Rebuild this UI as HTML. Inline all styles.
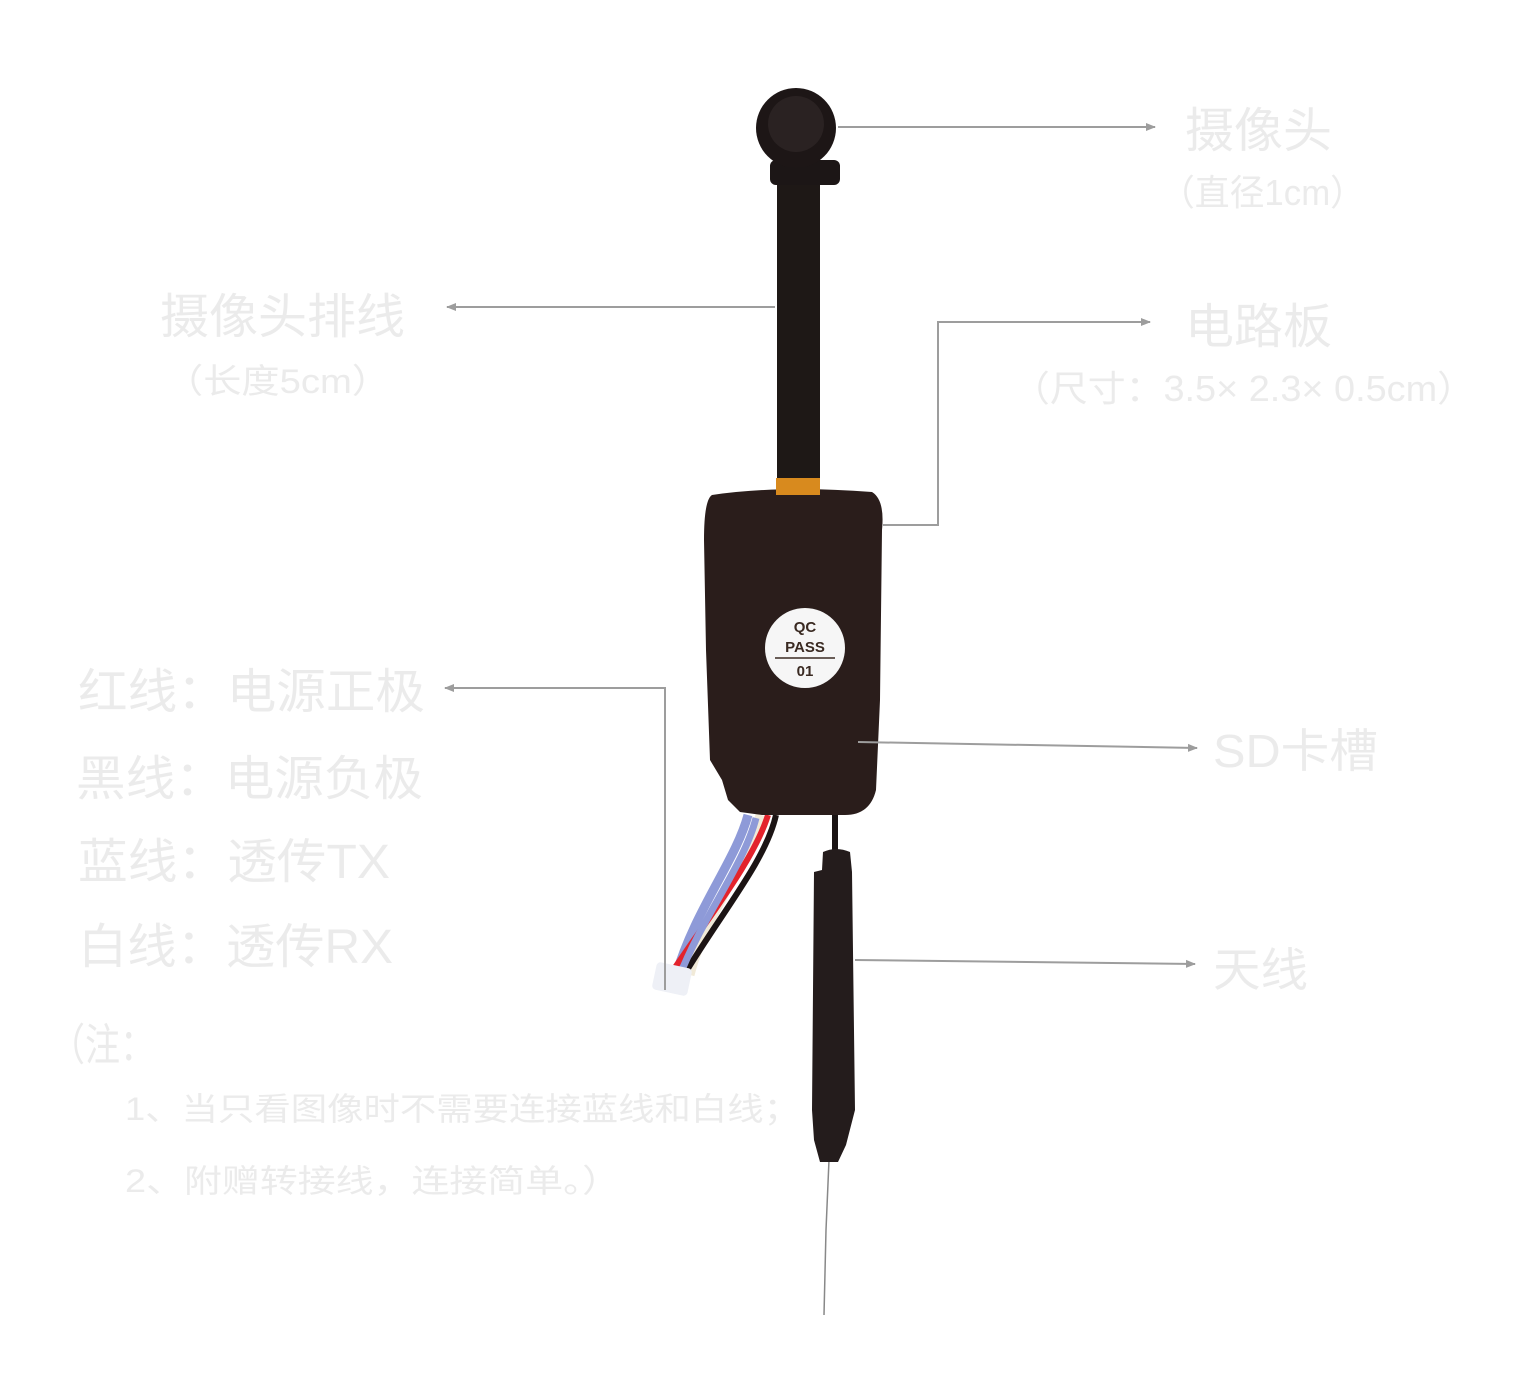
<!DOCTYPE html>
<html><head><meta charset="utf-8"><style>
html,body{margin:0;padding:0;background:#fff;}
svg{display:block;}
.t{font-family:"Liberation Sans","Noto Sans CJK SC",sans-serif;fill:#ebebeb;}
</style></head><body>
<svg width="1522" height="1377" viewBox="0 0 1522 1377" xmlns="http://www.w3.org/2000/svg">
<defs><marker id="a" markerWidth="10" markerHeight="10" refX="9" refY="5" orient="auto" markerUnits="userSpaceOnUse"><path d="M0,1 L10,5 L0,9 z" fill="#9d9d9d"/></marker></defs>
<path d="M829,1160 L826,1230 L824,1315" stroke="#888" stroke-width="1.5" fill="none"/>
<rect x="832" y="812" width="6" height="42" fill="#1a1414"/>
<path d="M823,852 Q836,846 850,852 L852,872 L855,1110 L846,1145 L838,1162 L820,1162 L814,1140 L812,1110 L814,872 L822,870 z" fill="#241c1c"/>
<!-- wires -->
<path d="M748,815 C736,860 695,910 676,975" stroke="#8e9ad8" stroke-width="9" fill="none"/>
<path d="M760,815 C750,860 705,915 690,975" stroke="#f1ead8" stroke-width="9" fill="none"/>
<path d="M768,815 C754,860 710,915 670,975" stroke="#e3232c" stroke-width="6" fill="none"/>
<path d="M776,815 C766,860 722,912 684,975" stroke="#1c1414" stroke-width="6" fill="none"/>
<path d="M756,818 C744,865 702,918 680,975" stroke="#8e9ad8" stroke-width="7" fill="none"/>
<rect x="654" y="965" width="36" height="28" rx="4" fill="#eef0f6" transform="rotate(12 672 979)"/>
<path d="M712,495 Q780,485 872,492 Q885,500 882,530 L880,700 L876,790 Q870,815 845,815 L762,815 L740,812 L728,800 L722,780 L710,760 L706,650 L704,540 Q704,500 712,495 z" fill="#2a1d1b"/>
<rect x="777" y="180" width="43" height="305" fill="#1e1816"/>
<rect x="776" y="478" width="44" height="17" fill="#d88a1e"/>
<rect x="770" y="160" width="70" height="25" rx="6" fill="#1c1616"/>
<circle cx="796" cy="128" r="40" fill="#1d1616"/>
<circle cx="796" cy="124" r="28" fill="#2a2222"/>
<circle cx="805" cy="648" r="40" fill="#f6f6f6"/>
<g font-family="Liberation Sans,sans-serif" font-weight="bold" font-size="15" fill="#3a2a22" text-anchor="middle">
<text x="805" y="632">QC</text><text x="805" y="652">PASS</text><text x="805" y="676">01</text></g>
<line x1="775" y1="658" x2="835" y2="658" stroke="#3a2a22" stroke-width="1.5"/>
<g stroke="#9d9d9d" stroke-width="2" fill="none">
<line x1="838" y1="127" x2="1155" y2="127" marker-end="url(#a)"/>
<line x1="775" y1="307" x2="447" y2="307" marker-end="url(#a)"/>
<polyline points="883,525 938,525 938,322 1150,322" marker-end="url(#a)"/>
<polyline points="665,990 665,688 445,688" marker-end="url(#a)"/>
<line x1="858" y1="742" x2="1197" y2="748" marker-end="url(#a)"/>
<line x1="855" y1="960" x2="1195" y2="964" marker-end="url(#a)"/>
</g>
<g class="t">
<text x="1185" y="147" font-size="48" textLength="147" lengthAdjust="spacingAndGlyphs">摄像头</text>
<text x="1160" y="205" font-size="36" textLength="205" lengthAdjust="spacingAndGlyphs">（直径1cm）</text>
<text x="160" y="333" font-size="48" textLength="245" lengthAdjust="spacingAndGlyphs">摄像头排线</text>
<text x="165" y="393" font-size="34" textLength="225" lengthAdjust="spacingAndGlyphs">（长度5cm）</text>
<text x="1185" y="343" font-size="48" textLength="147" lengthAdjust="spacingAndGlyphs">电路板</text>
<text x="1012" y="401" font-size="36" textLength="463" lengthAdjust="spacingAndGlyphs">（尺寸：3.5× 2.3× 0.5cm）</text>
<text x="78" y="708" font-size="48" textLength="347" lengthAdjust="spacingAndGlyphs">红线：电源正极</text>
<text x="76" y="795" font-size="48" textLength="347" lengthAdjust="spacingAndGlyphs">黑线：电源负极</text>
<text x="78" y="878" font-size="48" textLength="312" lengthAdjust="spacingAndGlyphs">蓝线：透传TX</text>
<text x="78" y="963" font-size="48" textLength="315" lengthAdjust="spacingAndGlyphs">白线：透传RX</text>
<text x="50" y="1060" font-size="44" textLength="105" lengthAdjust="spacingAndGlyphs">（注：</text>
<text x="125" y="1120" font-size="32" textLength="675" lengthAdjust="spacingAndGlyphs">1、当只看图像时不需要连接蓝线和白线；</text>
<text x="125" y="1192" font-size="32" textLength="495" lengthAdjust="spacingAndGlyphs">2、附赠转接线，连接简单。）</text>
<text x="1213" y="767" font-size="46" textLength="165" lengthAdjust="spacingAndGlyphs">SD卡槽</text>
<text x="1213" y="986" font-size="46" textLength="95" lengthAdjust="spacingAndGlyphs">天线</text>
</g>
</svg>
</body></html>
